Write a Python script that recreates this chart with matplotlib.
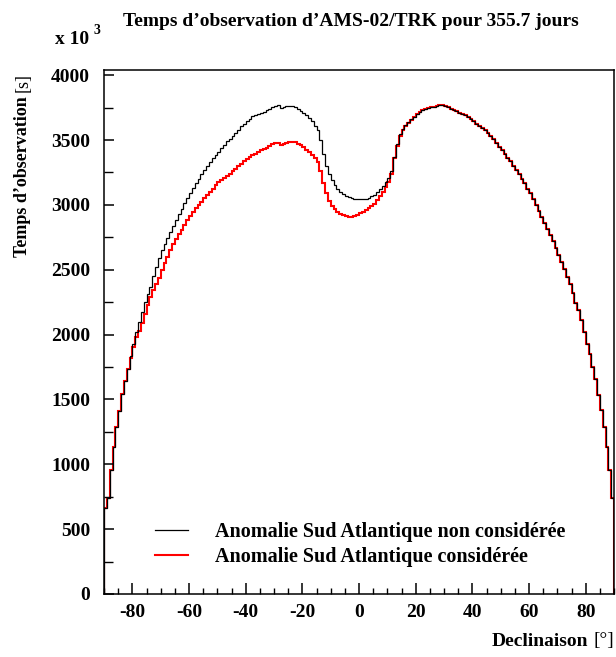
import numpy as np
import matplotlib
matplotlib.use("Agg")
import matplotlib.pyplot as plt
from matplotlib.lines import Line2D

plt.rcParams["font.family"] = ["Liberation Serif", "DejaVu Serif"]
plt.rcParams["axes.unicode_minus"] = False

# declination bins, 1 degree wide
dec_edges = np.arange(-90, 91, 1)

# observation time (x 10^3 s), SAA not removed
t_sans_saa = [
    665, 737, 955, 1130, 1289, 1412, 1541, 1641, 1731, 1835,
    1925, 2021, 2100, 2175, 2250, 2310, 2370, 2450, 2522, 2590,
    2650, 2700, 2745, 2790, 2840, 2885, 2930, 2970, 3015, 3055,
    3090, 3130, 3165, 3200, 3240, 3270, 3300, 3330, 3360, 3385,
    3410, 3440, 3465, 3490, 3510, 3535, 3555, 3580, 3605, 3625,
    3645, 3665, 3683, 3690, 3698, 3705, 3720, 3730, 3740, 3754,
    3760, 3767, 3750, 3755, 3762, 3762, 3760, 3755, 3740, 3725,
    3710, 3690, 3670, 3645, 3610, 3575, 3500, 3390, 3300, 3235,
    3190, 3155, 3125, 3100, 3082, 3068, 3060, 3052, 3047, 3044,
    3043, 3043, 3046, 3055, 3065, 3080, 3100, 3120, 3145, 3175,
    3210, 3265, 3370, 3470, 3545, 3585, 3615, 3640, 3660, 3680,
    3698, 3715, 3728, 3740, 3748, 3752, 3758, 3765, 3773, 3768,
    3760, 3752, 3740, 3730, 3722, 3710, 3700, 3690, 3675, 3660,
    3645, 3625, 3610, 3590, 3575, 3555, 3535, 3505, 3475, 3450,
    3420, 3395, 3365, 3335, 3300, 3270, 3235, 3200, 3165, 3125,
    3090, 3045, 3000, 2955, 2905, 2860, 2815, 2770, 2720, 2665,
    2610, 2560, 2505, 2445, 2390, 2320, 2240, 2188, 2111, 2021,
    1931, 1854, 1751, 1661, 1533, 1418, 1289, 1135, 955, 737,
]

# observation time (x 10^3 s), SAA removed
t_avec_saa = [
    665, 737, 955, 1130, 1289, 1412, 1541, 1641, 1731, 1821,
    1905, 1980, 2030, 2090, 2160, 2226, 2290, 2340, 2390, 2440,
    2496, 2550, 2600, 2650, 2700, 2740, 2775, 2810, 2845, 2880,
    2915, 2945, 2975, 3000, 3022, 3050, 3075, 3099, 3125, 3151,
    3175, 3195, 3210, 3225, 3241, 3260, 3280, 3300, 3318, 3335,
    3357, 3370, 3382, 3395, 3408, 3420, 3430, 3441, 3455, 3467,
    3475, 3480, 3465, 3470, 3478, 3482, 3485, 3482, 3470, 3459,
    3445, 3425, 3405, 3385, 3360, 3330, 3265, 3165, 3090, 3030,
    2995, 2968, 2948, 2933, 2922, 2915, 2910, 2908, 2915, 2925,
    2935, 2945, 2960, 2975, 2990, 3010, 3040, 3070, 3100, 3140,
    3180, 3240, 3360, 3455, 3530, 3575, 3605, 3635, 3658, 3680,
    3698, 3715, 3728, 3740, 3748, 3752, 3758, 3765, 3773, 3768,
    3760, 3752, 3740, 3730, 3722, 3710, 3700, 3690, 3675, 3660,
    3645, 3625, 3610, 3590, 3575, 3555, 3535, 3505, 3475, 3450,
    3420, 3395, 3365, 3335, 3300, 3270, 3235, 3200, 3165, 3125,
    3090, 3045, 3000, 2955, 2905, 2860, 2815, 2770, 2720, 2665,
    2610, 2560, 2505, 2445, 2390, 2320, 2240, 2188, 2111, 2021,
    1931, 1854, 1751, 1661, 1533, 1418, 1289, 1135, 955, 737,
]

labels = ["Anomalie Sud Atlantique non considérée",
          "Anomalie Sud Atlantique considérée"]
x_ticks = [-80, -60, -40, -20, 0, 20, 40, 60, 80]
y_ticks = [0, 500, 1000, 1500, 2000, 2500, 3000, 3500, 4000]

W, H = 616, 657
fig = plt.figure(figsize=(W / 100, H / 100), dpi=100)
ax = fig.add_axes([104 / W, 1 - 594 / H, 510 / W, 524 / H])

ax.stairs(t_avec_saa, dec_edges, color="#ff0000", linewidth=1.5, baseline=0)
ax.stairs(t_sans_saa, dec_edges, color="black", linewidth=0.9, baseline=0)

ax.set_xlim(-90, 90)
ax.set_ylim(0, 4040)
ax.set_xticks(x_ticks)
ax.set_xticks(np.arange(-90, 91, 5), minor=True)
ax.set_yticks(y_ticks)
ax.set_yticks(np.arange(0, 4001, 250), minor=True)
ax.tick_params(axis="both", which="both", direction="in", labelsize=14)
ax.tick_params(axis="x", which="major", length=8, width=1.1, pad=7)
ax.tick_params(axis="x", which="minor", length=4, width=1.0)
ax.tick_params(axis="y", which="major", length=7.5, width=1.1, pad=10)
ax.tick_params(axis="y", which="minor", length=6.5, width=1.0)
for lab in ax.get_xticklabels() + ax.get_yticklabels():
    lab.set_fontweight("bold")
for sp in ax.spines.values():
    sp.set_linewidth(1.1)

handles = [Line2D([], [], color="black", linewidth=0.9),
           Line2D([], [], color="#ff0000", linewidth=1.5)]
leg = ax.legend(handles, labels, loc="lower left",
                bbox_to_anchor=(0.1, 0.052), borderaxespad=0, borderpad=0,
                frameon=False, handlelength=1.65, handletextpad=1.35,
                labelspacing=0.22, prop={"family": "Liberation Serif",
                                          "weight": "bold", "size": 14.5})

# titles and axis labels (ROOT style placement)
fig.text(351 / W, 1 - 21 / H, "Temps d’observation d’AMS-02/TRK pour 355.7 jours",
         ha="center", va="center", fontsize=14, fontweight="bold")
fig.text(55 / W, 1 - 39 / H, "x 10", ha="left", va="center",
         fontsize=14, fontweight="bold")
fig.text(93 / W, 1 - 30 / H, "3", ha="left", va="center",
         fontsize=10, fontweight="bold")

fig.canvas.draw()
r = fig.canvas.get_renderer()

# y label: "Temps d’observation [s]" with regular brackets, top-aligned
t1 = fig.text(23 / W, 1 - 73 / H, "[s]", rotation=90, ha="center", va="top",
              fontsize=13)
bb = t1.get_window_extent(r)
fig.text(23 / W, (bb.y0 - 4) / H, "Temps d’observation", rotation=90,
         ha="center", va="top", fontsize=13, fontweight="bold")

# x label: "Declinaison [°]" right-aligned
t2 = fig.text(614 / W, 1 - 641 / H, "[°]", ha="right", va="center", fontsize=14)
bb = t2.get_window_extent(r)
fig.text((bb.x0 - 5) / W, 1 - 641 / H, "Declinaison", ha="right", va="center",
         fontsize=14, fontweight="bold")

fig.savefig("out.png", dpi=100)
